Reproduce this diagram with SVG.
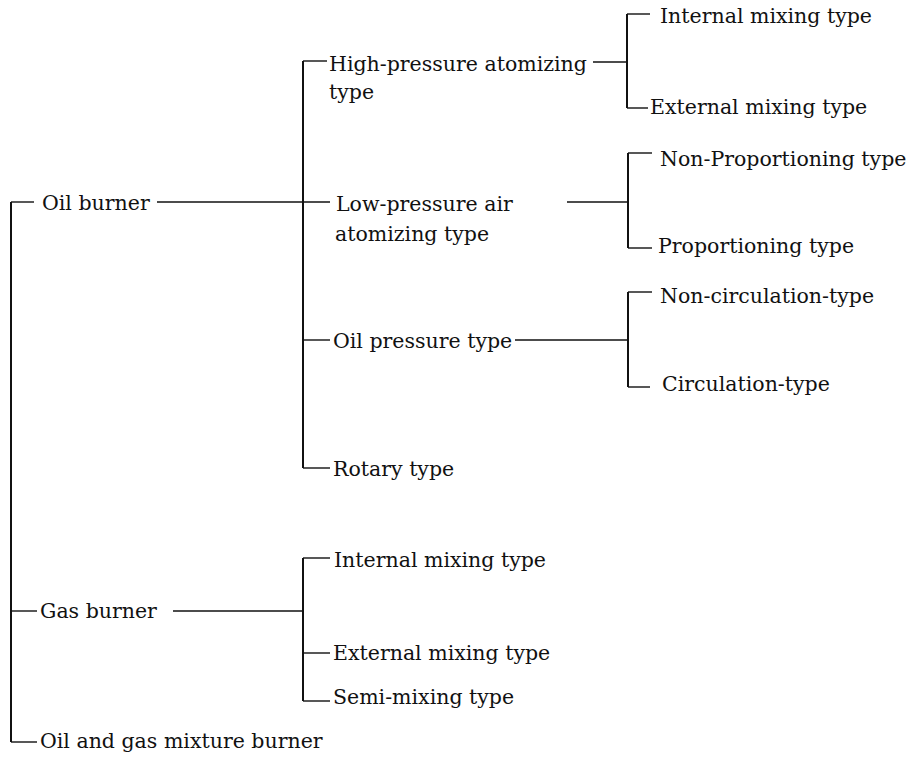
<svg xmlns="http://www.w3.org/2000/svg" width="914" height="764" viewBox="0 0 914 764">
<style>
  .t { font-family: "DejaVu Serif", "Liberation Serif", serif; font-size: 20.5px; fill: #111; }
  .v { stroke: #111; stroke-width: 2; fill: none; }
  .h { stroke: #111; stroke-width: 1.4; fill: none; }
</style>
<rect width="914" height="764" fill="#ffffff"/>
<g id="connectors">
  <!-- root bracket -->
  <line class="v" x1="11" y1="202" x2="11" y2="742"/>
  <line class="h" x1="11" y1="202" x2="34" y2="202"/>
  <line class="h" x1="11" y1="611" x2="37" y2="611"/>
  <line class="h" x1="11" y1="742" x2="37" y2="742"/>
  <!-- oil burner to its bracket -->
  <line class="h" x1="157" y1="202" x2="330" y2="202"/>
  <line class="v" x1="303" y1="61" x2="303" y2="468"/>
  <line class="h" x1="303" y1="61" x2="327" y2="61"/>
  <line class="h" x1="303" y1="340" x2="330" y2="340"/>
  <line class="h" x1="303" y1="468" x2="330" y2="468"/>
  <!-- high-pressure bracket -->
  <line class="h" x1="593" y1="62" x2="627" y2="62"/>
  <line class="v" x1="627" y1="14" x2="627" y2="108"/>
  <line class="h" x1="627" y1="14" x2="650" y2="14"/>
  <line class="h" x1="627" y1="108" x2="648" y2="108"/>
  <!-- low-pressure bracket -->
  <line class="h" x1="567" y1="202" x2="628" y2="202"/>
  <line class="v" x1="628" y1="153" x2="628" y2="248"/>
  <line class="h" x1="628" y1="153" x2="652" y2="153"/>
  <line class="h" x1="628" y1="248" x2="652" y2="248"/>
  <!-- oil pressure bracket -->
  <line class="h" x1="515" y1="340" x2="628" y2="340"/>
  <line class="v" x1="628" y1="292" x2="628" y2="387"/>
  <line class="h" x1="628" y1="292" x2="652" y2="292"/>
  <line class="h" x1="628" y1="387" x2="650" y2="387"/>
  <!-- gas burner bracket -->
  <line class="h" x1="173" y1="611" x2="303" y2="611"/>
  <line class="v" x1="303" y1="558" x2="303" y2="701"/>
  <line class="h" x1="303" y1="558" x2="330" y2="558"/>
  <line class="h" x1="303" y1="653" x2="330" y2="653"/>
  <line class="h" x1="303" y1="701" x2="330" y2="701"/>
</g>
<g id="oil-burner"><text class="t" x="42" y="210">Oil burner</text></g>
<g id="gas-burner"><text class="t" x="40" y="618">Gas burner</text></g>
<g id="mixture-burner"><text class="t" x="40" y="748">Oil and gas mixture burner</text></g>
<g id="high-pressure"><text class="t" x="329" y="71">High-pressure atomizing</text><text class="t" x="329" y="99">type</text></g>
<g id="low-pressure"><text class="t" x="336" y="211">Low-pressure air</text><text class="t" x="335" y="241">atomizing type</text></g>
<g id="oil-pressure"><text class="t" x="333" y="348">Oil pressure type</text></g>
<g id="rotary"><text class="t" x="333" y="476">Rotary type</text></g>
<g id="hp-internal"><text class="t" x="660" y="23">Internal mixing type</text></g>
<g id="hp-external"><text class="t" x="650" y="114">External mixing type</text></g>
<g id="lp-non-proportioning"><text class="t" x="660" y="166">Non-Proportioning type</text></g>
<g id="lp-proportioning"><text class="t" x="658" y="253">Proportioning type</text></g>
<g id="op-non-circulation"><text class="t" x="660" y="303">Non-circulation-type</text></g>
<g id="op-circulation"><text class="t" x="662" y="391">Circulation-type</text></g>
<g id="gas-internal"><text class="t" x="334" y="567">Internal mixing type</text></g>
<g id="gas-external"><text class="t" x="333" y="660">External mixing type</text></g>
<g id="gas-semi"><text class="t" x="333" y="704">Semi-mixing type</text></g>
</svg>
